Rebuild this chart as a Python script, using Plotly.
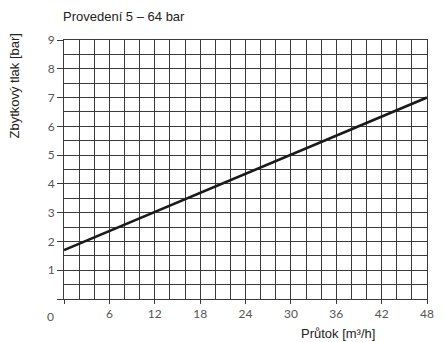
import plotly.graph_objects as go

# Residual pressure vs. flow, version 5 - 64 bar
flow = [0, 48]            # m³/h
pressure = [1.7, 7.0]     # bar

x_ticks = [0, 6, 12, 18, 24, 30, 36, 42, 48]
x_tick_text = ["", "6", "12", "18", "24", "30", "36", "42", "48"]
y_ticks = [0, 1, 2, 3, 4, 5, 6, 7, 8, 9]
y_tick_text = ["", "1", "2", "3", "4", "5", "6", "7", "8", "9"]

grid_col = "#3a3a3a"
tick_font = dict(family="Lato, Liberation Sans, sans-serif", size=12, color="#555555")
label_font = dict(family="Liberation Sans, Arial, sans-serif", size=13, color="#222222")

fig = go.Figure()
fig.add_trace(go.Scatter(
    x=flow, y=pressure, mode="lines",
    line=dict(color="#1a1a1a", width=2.6),
    showlegend=False, hoverinfo="skip",
))

fig.update_layout(
    width=446, height=342,
    margin=dict(l=64, r=14, t=40, b=43),
    paper_bgcolor="white", plot_bgcolor="white",
    font=dict(family="Liberation Sans, Arial, sans-serif", size=12, color="#222222"),
    xaxis=dict(
        range=[0, 48], tickmode="array", tickvals=x_ticks, ticktext=x_tick_text,
        ticks="outside", ticklen=4, tickcolor=grid_col, tickwidth=1,
        showgrid=True, gridcolor=grid_col, gridwidth=1,
        minor=dict(dtick=2, tick0=0, showgrid=True, gridcolor=grid_col, gridwidth=1),
        showline=True, linecolor=grid_col, linewidth=1, mirror=True,
        zeroline=False, tickfont=tick_font, fixedrange=True,
    ),
    yaxis=dict(
        range=[0, 9], tickmode="array", tickvals=y_ticks, ticktext=y_tick_text,
        ticks="outside", ticklen=6, tickcolor=grid_col, tickwidth=1,
        showgrid=True, gridcolor=grid_col, gridwidth=1,
        minor=dict(dtick=0.5, tick0=0, showgrid=True, gridcolor=grid_col, gridwidth=1),
        showline=True, linecolor=grid_col, linewidth=1, mirror=True,
        zeroline=False, tickfont=tick_font, fixedrange=True,
    ),
    annotations=[
        dict(text="Provedení 5 – 64 bar", xref="paper", yref="paper",
             x=0, y=1, xanchor="left", yanchor="bottom", xshift=-3, yshift=14,
             showarrow=False, font=label_font),
        dict(text="Zbytkový tlak [bar]", xref="paper", yref="paper",
             x=0, y=1, xshift=-50, yshift=8, xanchor="center", yanchor="top",
             textangle=-90, showarrow=False, font=label_font),
        dict(text="Průtok [m³/h]", xref="paper", yref="paper",
             x=1, y=0, xshift=-50, yshift=-25, xanchor="right", yanchor="top",
             showarrow=False, font=label_font),
        dict(text="0", xref="x", yref="y", x=0, y=0, xshift=-14, yshift=-17,
             xanchor="center", yanchor="middle", showarrow=False, font=tick_font),
    ],
)

fig.write_html("out.html")
